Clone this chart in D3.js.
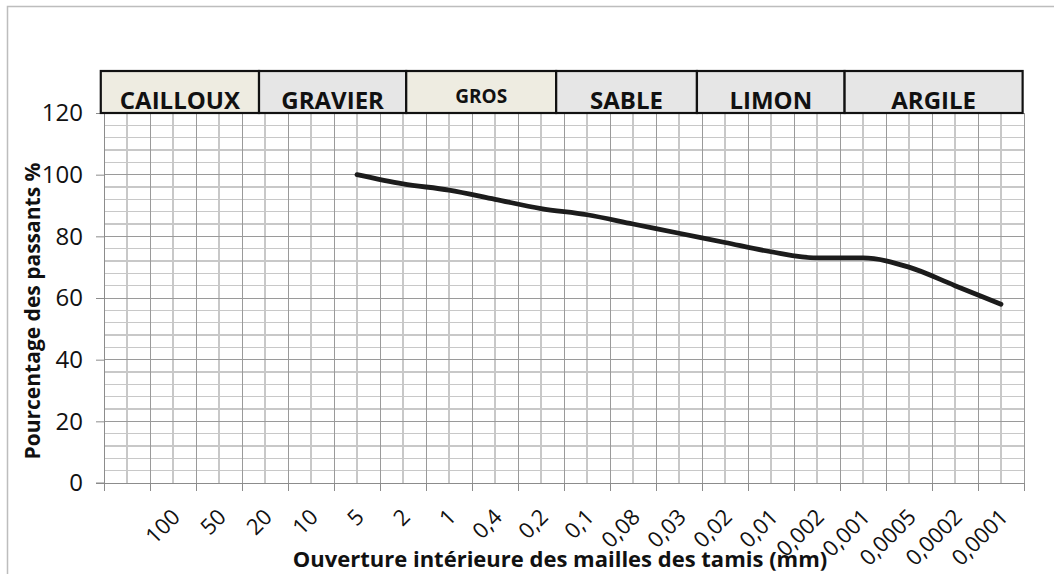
<!DOCTYPE html>
<html>
<head>
<meta charset="utf-8">
<script src="https://cdn.jsdelivr.net/npm/d3@7"></script>
<style>
  body { margin: 0; background: #fff; }
  svg { display: block; font-family: 'Open Sans', sans-serif; }
</style>
</head>
<body>
<svg id="chart"></svg>
<script>
// sieve openings (first category has no label)
const categories = ['', '100', '50', '20', '10', '5', '2', '1', '0,4', '0,2', '0,1', '0,08', '0,03', '0,02', '0,01', '0,002', '0,001', '0,0005', '0,0002', '0,0001']
const passants = [null, null, null, null, null, 100, 97, 95, 92, 89, 87, 84, 81, 78, 75, 73, 73, 70, 64, 58]
const yTicks = [0, 20, 40, 60, 80, 100, 120]

// soil classes, span in category units
const classes = ['CAILLOUX', 'GRAVIER', 'GROS', 'SABLE', 'LIMON', 'ARGILE']
const classStart = [-0.07, 3.37, 6.57, 9.83, 12.89, 16.1]
const classEnd = [3.37, 6.57, 9.83, 12.89, 16.1, 19.97]
const classColors = ['#eeece1', '#e6e6e6', '#eeece1', '#e6e6e6', '#e6e6e6', '#e6e6e6']

const width = 1054, height = 574
const marginTop = 113, marginRight = 30, marginBottom = 91, marginLeft = 104

const svg = d3.select('#chart')
              .attr('width', width)
              .attr('height', height)
              .attr('viewBox', [0, 0, width, height])

// chart area border
svg.append('rect')
   .attr('x', 7.5).attr('y', 6.5)
   .attr('width', 1200).attr('height', 1200)
   .attr('fill', 'none')
   .attr('stroke', '#bdbdbd')
   .attr('stroke-width', 1.5)

const n = categories.length
const xBand = d3.scaleBand(d3.range(n), [marginLeft, width - marginRight]).padding(0)
const xLin = d3.scaleLinear([0, n], [marginLeft, width - marginRight])
const y = d3.scaleLinear([0, 120], [height - marginBottom, marginTop])
const bw = xBand.bandwidth()

// grid
const grid = svg.append('g').attr('shape-rendering', 'crispEdges')
grid.selectAll('.hmin')
    .data(d3.range(0, 121, 4).filter(v => v % 20 != 0))
    .join('line')
      .attr('x1', marginLeft).attr('x2', width - marginRight)
      .attr('y1', d => y(d)).attr('y2', d => y(d))
      .attr('stroke', '#c8c8c8').attr('stroke-width', 1.5)
grid.selectAll('.vmin')
    .data(d3.range(n))
    .join('line')
      .attr('x1', d => xBand(d) + bw / 2).attr('x2', d => xBand(d) + bw / 2)
      .attr('y1', y(0)).attr('y2', y(120))
      .attr('stroke', '#c8c8c8').attr('stroke-width', 1.5)
grid.selectAll('.hmaj')
    .data(yTicks)
    .join('line')
      .attr('x1', marginLeft).attr('x2', width - marginRight)
      .attr('y1', d => y(d)).attr('y2', d => y(d))
      .attr('stroke', '#9a9a9a').attr('stroke-width', 1)
grid.selectAll('.vmaj')
    .data(d3.range(n + 1))
    .join('line')
      .attr('x1', d => xLin(d)).attr('x2', d => xLin(d))
      .attr('y1', y(0)).attr('y2', y(120))
      .attr('stroke', '#9a9a9a').attr('stroke-width', 1)

// y axis
svg.append('g')
   .attr('transform', `translate(${marginLeft},0)`)
   .call(d3.axisLeft(y).tickValues(yTicks).tickSize(8).tickPadding(13))
   .call(g => g.select('.domain').attr('stroke', '#8c8c8c'))
   .call(g => g.selectAll('.tick line').attr('stroke', '#8c8c8c'))
   .call(g => g.selectAll('.tick text')
               .attr('font-size', 24)
               .attr('font-family', "'Open Sans', sans-serif")
               .attr('fill', '#111'))

// x axis (ticks on category boundaries)
svg.append('g')
   .attr('transform', `translate(0,${height - marginBottom})`)
   .call(d3.axisBottom(xLin).tickValues(d3.range(n + 1)).tickSize(8).tickFormat(''))
   .call(g => g.select('.domain').attr('stroke', '#8c8c8c'))
   .call(g => g.selectAll('.tick line').attr('stroke', '#8c8c8c'))
svg.append('line')
   .attr('x1', marginLeft - 8).attr('x2', marginLeft)
   .attr('y1', y(0)).attr('y2', y(0))
   .attr('stroke', '#8c8c8c')

svg.append('g')
   .selectAll('text')
   .data(d3.range(n))
   .join('text')
     .attr('transform', i => `translate(${xBand(i) + bw / 2 + 3},${y(0) + 30}) rotate(-45)`)
     .attr('text-anchor', 'end')
     .attr('dy', '0.35em')
     .attr('font-size', 22)
     .attr('fill', '#111')
     .text(i => categories[i])

// class boxes above plot
const boxTop = 71
const boxes = svg.append('g')
boxes.selectAll('rect')
     .data(d3.range(classes.length))
     .join('rect')
       .attr('x', i => xLin(classStart[i]))
       .attr('y', boxTop)
       .attr('width', i => xLin(classEnd[i]) - xLin(classStart[i]))
       .attr('height', marginTop - boxTop)
       .attr('fill', i => classColors[i])
       .attr('stroke', '#111')
       .attr('stroke-width', 2.2)
boxes.selectAll('text')
     .data(d3.range(classes.length))
     .join('text')
       .attr('x', i => (xLin(classStart[i]) + xLin(classEnd[i])) / 2)
       .attr('y', i => classes[i] == 'GROS' ? 103 : 109)
       .attr('text-anchor', 'middle')
       .attr('font-weight', 'bold')
       .attr('font-size', i => classes[i] == 'GROS' ? 19 : 24)
       .attr('fill', '#111')
       .text(i => classes[i])

// curve
const line = d3.line()
               .defined(d => d != null)
               .curve(d3.curveMonotoneX)
               .x((d, i) => xBand(i) + bw / 2)
               .y(d => y(d))
svg.append('path')
   .datum(passants)
   .attr('fill', 'none')
   .attr('stroke', '#1c1c1c')
   .attr('stroke-width', 4.8)
   .attr('stroke-linecap', 'round')
   .attr('stroke-linejoin', 'round')
   .attr('d', line)

// axis titles
svg.append('text')
   .attr('transform', `translate(40,${(marginTop + height - marginBottom) / 2 + 13}) rotate(-90)`)
   .attr('text-anchor', 'middle')
   .attr('font-weight', 'bold')
   .attr('font-size', 21)
   .attr('fill', '#111')
   .text('Pourcentage des passants %')
svg.append('text')
   .attr('x', 560)
   .attr('y', 567)
   .attr('text-anchor', 'middle')
   .attr('font-weight', 'bold')
   .attr('font-size', 22)
   .attr('fill', '#111')
   .text('Ouverture intérieure des mailles des tamis (mm)')
</script>
</body>
</html>
